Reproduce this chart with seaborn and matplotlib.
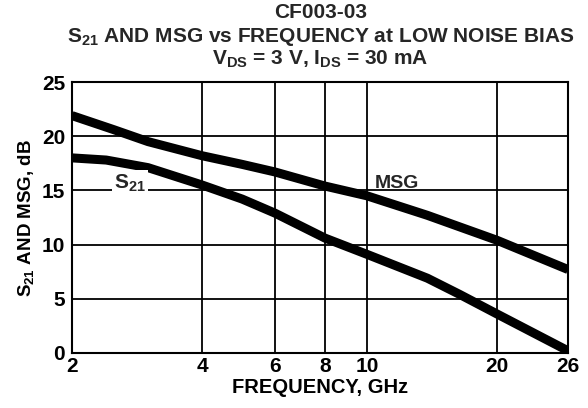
import numpy as np
import pandas as pd
import matplotlib
matplotlib.use("Agg")
import matplotlib.pyplot as plt
import seaborn as sns

# ---- data ----
freq_msg = [2, 2.5, 3, 4, 5, 6, 8, 10, 13.8, 20, 26]
msg_db = [21.9, 20.6, 19.5, 18.2, 17.4, 16.7, 15.4, 14.5, 12.7, 10.4, 7.7]
freq_s21 = [2, 2.4, 3, 4, 5, 6, 8, 10, 13.8, 16.4, 20, 26]
s21_db = [18.0, 17.8, 17.1, 15.5, 14.2, 12.9, 10.6, 9.1, 6.9, 5.4, 3.6, 0.2]
x_ticks = [2, 4, 6, 8, 10, 20, 26]
y_ticks = [0, 5, 10, 15, 20, 25]
# axis of the original is not perfectly logarithmic: relative positions of the ticks
tick_pos = [0, 130, 203, 253, 295, 425, 496]

df = pd.concat([
    pd.DataFrame({"freq": freq_msg, "db": msg_db, "curve": "MSG"}),
    pd.DataFrame({"freq": freq_s21, "db": s21_db, "curve": "S21"}),
])

sns.set_theme(style="white")
plt.rcParams["font.family"] = ["Liberation Sans", "DejaVu Sans"]
plt.rcParams["font.weight"] = "bold"
plt.rcParams["mathtext.fontset"] = "custom"
plt.rcParams["mathtext.rm"] = "Liberation Sans:bold"
plt.rcParams["mathtext.it"] = "Liberation Sans:bold"
plt.rcParams["mathtext.bf"] = "Liberation Sans:bold"

lt = np.log10(np.array(x_ticks, dtype=float))
tp = np.array(tick_pos, dtype=float)

def fwd(x):
    x = np.asarray(x, dtype=float)
    lx = np.log10(np.clip(x, 1e-9, None))
    return np.interp(lx, lt, tp)

def inv(p):
    p = np.asarray(p, dtype=float)
    return 10 ** np.interp(p, tp, lt)

fig = plt.figure(figsize=(5.88, 4.08), dpi=100)
ax = fig.add_axes([72 / 588, 1 - 353 / 408, (568 - 72) / 588, (353 - 82) / 408])

sns.lineplot(data=df, x="freq", y="db", units="curve", estimator=None,
             color="black", lw=6.5, ax=ax, legend=False, sort=True,
             solid_capstyle="butt", solid_joinstyle="round")

ax.set_xscale("function", functions=(fwd, inv))
ax.set_xlim(2, 26)
ax.set_ylim(0, 25)
ax.set_xticks(x_ticks)
ax.set_xticklabels([str(t) for t in x_ticks])
ax.minorticks_off()
ax.set_yticks(y_ticks)
ax.grid(True, color="black", lw=1.3)
for s in ax.spines.values():
    s.set_color("black")
    s.set_linewidth(1.5)
ax.tick_params(axis="both", length=0, labelsize=15, colors="black")
ax.tick_params(axis="y", pad=5)
ax.tick_params(axis="x", pad=3)
for lab in ax.get_xticklabels() + ax.get_yticklabels():
    lab.set_fontweight("bold")

ax.set_xlabel("FREQUENCY, GHz", fontsize=14.5, fontweight="bold", color="black", labelpad=1)
ax.set_ylabel(r"S$_{21}$ AND MSG, dB", fontsize=13.5, fontweight="bold", color="black", labelpad=4)

ax.text(10.4, 15.2, "MSG", fontsize=14, fontweight="bold", ha="left", va="baseline")
ax.text(2.72, 15.2, r"S$_{21}$", fontsize=15, fontweight="bold", ha="center", va="baseline",
        bbox=dict(facecolor="white", edgecolor="none", pad=1.5))

fig.text(0.545, 1 - 13 / 408, "CF003-03", fontsize=15, fontweight="bold", ha="center", va="center")
fig.text(0.545, 1 - 37 / 408, r"S$_{21}$ AND MSG vs FREQUENCY at LOW NOISE BIAS",
         fontsize=15, fontweight="bold", ha="center", va="center")
fig.text(0.545, 1 - 59 / 408, r"V$_{DS}$ = 3 V, I$_{DS}$ = 30 mA",
         fontsize=15, fontweight="bold", ha="center", va="center")

fig.savefig("out.png", dpi=100, facecolor="white")
